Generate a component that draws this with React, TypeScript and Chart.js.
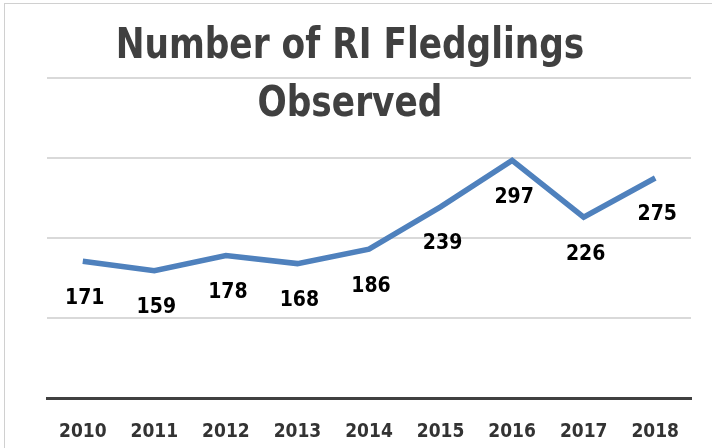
import React, { useEffect, useRef } from "react";
import { Chart, registerables } from "chart.js";

Chart.register(...registerables);

const years = ["2010", "2011", "2012", "2013", "2014", "2015", "2016", "2017", "2018"];
const fledglings = [171, 159, 178, 168, 186, 239, 297, 226, 275];
const titleLines = ["Number of RI Fledglings", "Observed"];
const yMin = 0;
const yMax = 400;
const yStep = 100;

const FONT = "'Liberation Sans Narrow', 'DejaVu Sans Condensed', 'Open Sans', sans-serif";

const titlePlugin = {
  id: "customTitle",
  afterDraw(chart: any) {
    const ctx = chart.ctx;
    ctx.save();
    ctx.fillStyle = "#404040";
    ctx.font = `bold 42px ${FONT}`;
    ctx.textAlign = "center";
    ctx.textBaseline = "middle";
    ctx.translate(350, 0);
    ctx.scale(0.91, 1);
    ctx.fillText(titleLines[0], 0, 47);
    ctx.fillText(titleLines[1], 0, 105);
    ctx.restore();
  },
};

const labelPlugin = {
  id: "valueLabels",
  afterDatasetsDraw(chart: any) {
    const ctx = chart.ctx;
    const meta = chart.getDatasetMeta(0);
    const data = chart.data.datasets[0].data;
    ctx.save();
    ctx.fillStyle = "#000000";
    ctx.font = `bold 21px ${FONT}`;
    ctx.textAlign = "center";
    ctx.textBaseline = "middle";
    meta.data.forEach((pt: any, i: number) => {
      ctx.fillText(String(data[i]), pt.x + 2, pt.y + 37);
    });
    ctx.restore();
  },
};

export default function App() {
  const ref = useRef<HTMLCanvasElement | null>(null);

  useEffect(() => {
    if (!ref.current) return;
    const chart = new Chart(ref.current, {
      type: "line",
      data: {
        labels: years,
        datasets: [
          {
            data: fledglings,
            borderColor: "#4f81bd",
            borderWidth: 5.5,
            pointRadius: 0,
            tension: 0,
            fill: false,
          },
        ],
      },
      options: {
        responsive: false,
        animation: false,
        layout: { padding: { left: 47, right: 21, top: 78, bottom: 0 } },
        plugins: {
          legend: { display: false },
          title: { display: false },
          tooltip: { enabled: false },
        },
        scales: {
          x: {
            offset: true,
            grid: { display: false },
            border: { display: true, color: "#404040", width: 3 },
            ticks: {
              color: "#333333",
              font: { family: FONT, size: 19, weight: "bold" },
              padding: 15,
              maxRotation: 0,
            },
            afterFit: (s: any) => {
              s.height = 50;
            },
          },
          y: {
            min: yMin,
            max: yMax,
            ticks: { display: false, stepSize: yStep },
            border: { display: false },
            grid: {
              color: "#d9d9d9",
              lineWidth: 2,
              drawTicks: false,
            },
            afterFit: (s: any) => {
              s.width = 0;
            },
          },
        },
      },
      plugins: [titlePlugin, labelPlugin],
    });
    return () => chart.destroy();
  }, []);

  return (
    <div
      style={{
        position: "fixed",
        left: 0,
        top: 0,
        width: 712,
        height: 448,
        background: "#ffffff",
      }}
    >
      <div
        style={{
          position: "absolute",
          left: 4,
          top: 3,
          width: 720,
          height: 460,
          border: "1px solid #d0d0d0",
          boxSizing: "border-box",
        }}
      />
      <canvas ref={ref} width={712} height={448} style={{ position: "absolute", left: 0, top: 0 }} />
    </div>
  );
}
